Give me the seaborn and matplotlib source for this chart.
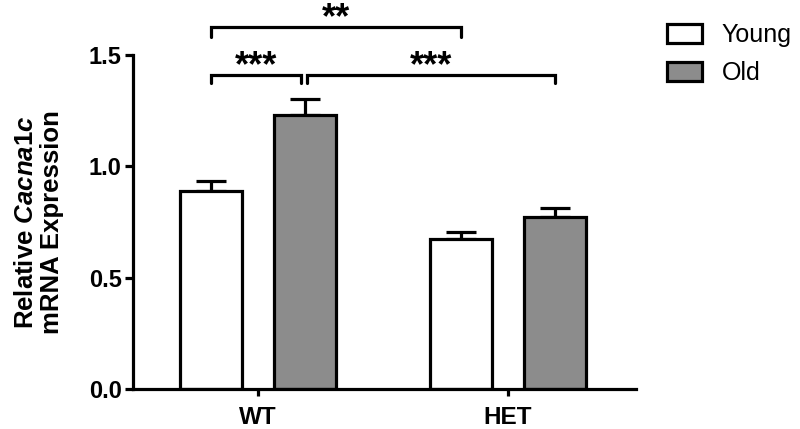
import matplotlib
matplotlib.use("Agg")
import matplotlib.pyplot as plt
import seaborn as sns
import pandas as pd
import numpy as np

genotypes = ["WT", "HET"]
ages = ["Young", "Old"]
young_mean = [0.889, 0.674]
old_mean = [1.230, 0.772]
young_sem = [0.045, 0.031]
old_sem = [0.072, 0.041]
yticks = [0.0, 0.5, 1.0, 1.5]

df = pd.DataFrame({
    "genotype": genotypes * 2,
    "age": ["Young"] * 2 + ["Old"] * 2,
    "value": young_mean + old_mean,
})
sems = {"Young": young_sem, "Old": old_sem}

sns.set_style("ticks")
plt.rcParams["font.family"] = ["Liberation Sans", "DejaVu Sans"]
plt.rcParams["mathtext.fontset"] = "custom"
plt.rcParams["mathtext.it"] = "Liberation Sans:italic:bold"
plt.rcParams["mathtext.rm"] = "Liberation Sans:bold"
plt.rcParams["mathtext.bf"] = "Liberation Sans:bold"
for k in ["text.color", "axes.labelcolor", "xtick.color", "ytick.color",
          "axes.edgecolor"]:
    plt.rcParams[k] = "black"

fig = plt.figure(figsize=(8, 4.29), dpi=100)
ax = fig.add_axes([0.166, 0.093, 0.629, 0.779])

lw = 2.3
sns.barplot(data=df, x="genotype", y="value", hue="age", order=genotypes,
            hue_order=ages, palette={"Young": "white", "Old": "#8c8c8c"},
            edgecolor="black", linewidth=lw, width=0.752, gap=0.34,
            errorbar=None, ax=ax, legend=True)

# error bars (upward only)
centers = {}
for cont, age in zip(ax.containers, ages):
    for bar, g, s in zip(cont, genotypes, sems[age]):
        cx = bar.get_x() + bar.get_width() / 2
        h = bar.get_height()
        centers[(g, age)] = cx
        ax.errorbar(cx, h, yerr=[[0], [s]], fmt="none", ecolor="black",
                    elinewidth=lw, capsize=11, capthick=lw, zorder=1)
        bar.set_zorder(2)

ax.set_xlim(-0.5, 1.512)
ax.set_ylim(0, 1.5)
ax.set_yticks(yticks)
ax.set_yticklabels([f"{t:.1f}" for t in yticks], fontsize=17, fontweight="bold")
ax.set_xticks(range(len(genotypes)))
ax.set_xticklabels(genotypes, fontsize=17.5, fontweight="bold")
ax.set_xlabel("")
ax.set_ylabel("Relative $\\mathit{Cacna1c}$\nmRNA Expression", fontsize=18.5,
              fontweight="bold", labelpad=18, linespacing=1.12)

for sp in ["top", "right"]:
    ax.spines[sp].set_visible(False)
for sp in ["left", "bottom"]:
    ax.spines[sp].set_linewidth(lw)
    ax.spines[sp].set_color("black")
ax.tick_params(axis="y", width=lw, length=6, pad=2, colors="black")
ax.tick_params(axis="x", width=lw, length=5, pad=7, colors="black")

# significance brackets
def bracket(x1, x2, y, d, text):
    ax.plot([x1, x1, x2, x2], [y - d, y, y, y - d], color="black", lw=lw,
            clip_on=False, solid_joinstyle="miter")
    ax.text((x1 + x2) / 2, y - 0.005, text, ha="center", va="baseline",
            fontsize=26, fontweight="bold", color="black")

wy, wo = centers[("WT", "Young")], centers[("WT", "Old")]
hy, ho = centers[("HET", "Young")], centers[("HET", "Old")]
bracket(wy, wo - 0.015, 1.41, 0.036, "***")
bracket(wo + 0.01, ho, 1.41, 0.036, "***")
bracket(wy, hy, 1.626, 0.046, "**")

handles, labels = ax.get_legend_handles_labels()
leg = ax.legend(handles, labels, loc="upper left", bbox_to_anchor=(0.805, 0.998),
                bbox_transform=fig.transFigure, frameon=False, fontsize=18,
                handlelength=1.4, handleheight=0.75, handletextpad=0.8,
                labelspacing=0.55)
for t in leg.get_texts():
    t.set_color("black")

fig.savefig("out.png", dpi=100)
